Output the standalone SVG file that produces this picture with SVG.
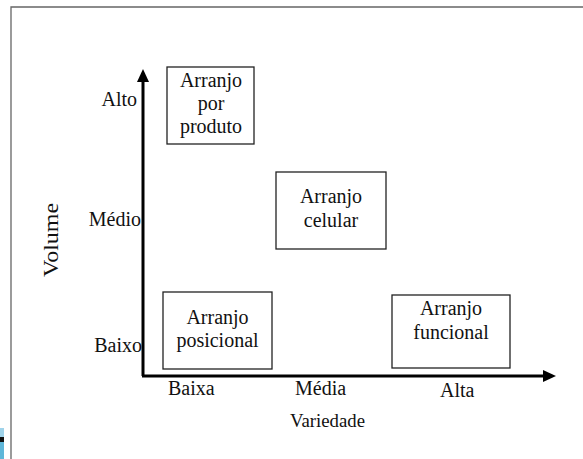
<svg xmlns="http://www.w3.org/2000/svg" width="583" height="459" viewBox="0 0 583 459">
<defs>
<style>
.t{font-family:"Liberation Serif","Times New Roman",serif;font-size:20px;fill:#111}
.c{text-anchor:middle}
.r{text-anchor:end}
.box{fill:#fff;stroke:#222;stroke-width:1.3}
.axis{stroke:#000;stroke-width:3;fill:none}
</style>
<marker id="arr" markerUnits="userSpaceOnUse" markerWidth="14" markerHeight="12" refX="0" refY="6" orient="auto">
<path d="M0,0 L13,6 L0,12 z" fill="#000"/>
</marker>
</defs>
<rect width="583" height="459" fill="#fff"/>
<g id="frame">
<path d="M11,459 V7 H583" fill="none" stroke="#666" stroke-width="1.3"/>
<rect x="0" y="428" width="4" height="9" fill="#9fd3ea"/>
<rect x="0" y="437" width="4" height="5" fill="#111"/>
<rect x="0" y="442" width="4" height="17" fill="#5fb6d8"/>
</g>
<g id="connectors">
<path class="axis" d="M143,376 V82" marker-end="url(#arr)"/>
<path class="axis" d="M142,376 H543" marker-end="url(#arr)"/>
</g>
<g id="labels">
<text class="t r" x="137" y="106">Alto</text>
<text class="t r" x="141" y="226">Médio</text>
<text class="t r" x="142" y="352">Baixo</text>
<text class="t" x="168" y="395">Baixa</text>
<text class="t" x="295" y="395">Média</text>
<text class="t" x="440" y="397">Alta</text>
<text class="t" x="290" y="427" style="font-size:18px" textLength="75" lengthAdjust="spacingAndGlyphs">Variedade</text>
<text class="t c" transform="translate(58,240) rotate(-90)" textLength="74" lengthAdjust="spacingAndGlyphs">Volume</text>
</g>
<g id="produto">
<rect class="box" x="167" y="67" width="87" height="77"/>
<text class="t c" x="211" y="87">Arranjo</text>
<text class="t c" x="211" y="110">por</text>
<text class="t c" x="211" y="133">produto</text>
</g>
<g id="celular">
<rect class="box" x="276" y="172" width="110" height="77"/>
<text class="t c" x="331" y="203">Arranjo</text>
<text class="t c" x="331" y="227">celular</text>
</g>
<g id="posicional">
<rect class="box" x="163" y="292" width="109" height="77"/>
<text class="t c" x="217.5" y="324">Arranjo</text>
<text class="t c" x="217.5" y="347">posicional</text>
</g>
<g id="funcional">
<rect class="box" x="392" y="295" width="118" height="73"/>
<text class="t c" x="451" y="315">Arranjo</text>
<text class="t c" x="451" y="339">funcional</text>
</g>
</svg>
